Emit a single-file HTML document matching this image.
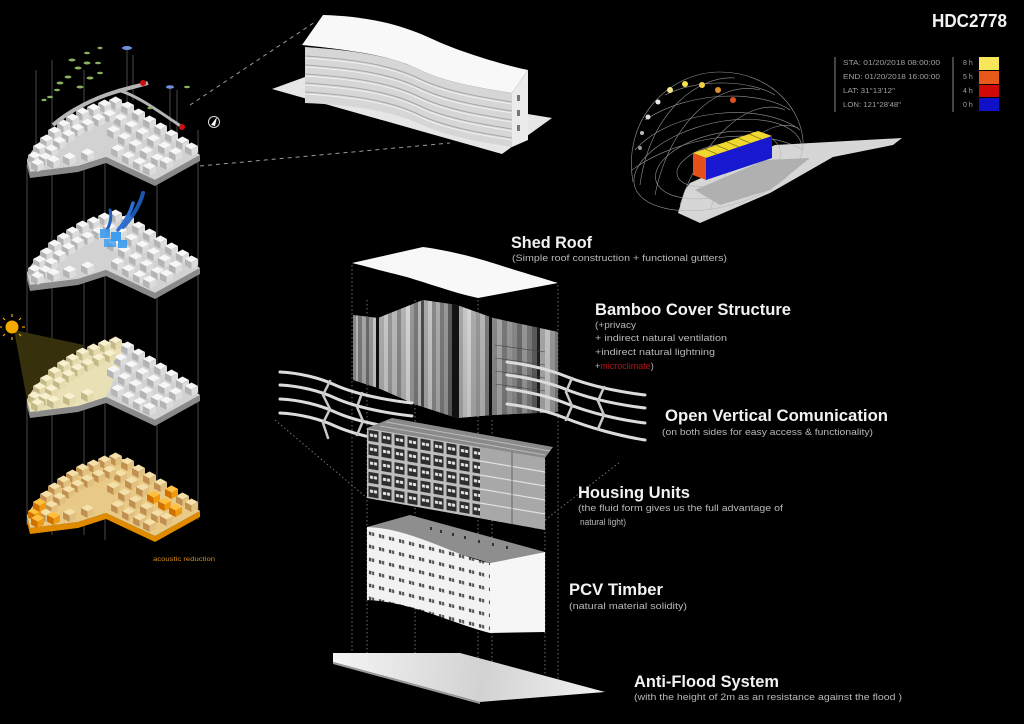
<!DOCTYPE html>
<html><head><meta charset="utf-8">
<style>
html,body{margin:0;padding:0;background:#000;}
svg{display:block}
text{font-family:"Liberation Sans",sans-serif}
.t{fill:#f2f2f2;font-weight:bold;font-size:17px}
.s{fill:#b8b8b8;font-size:9px}
.lg{fill:#a0a0a0;font-size:7px}
</style></head><body>
<svg width="1024" height="724" viewBox="0 0 1024 724" xmlns="http://www.w3.org/2000/svg" xmlns:xlink="http://www.w3.org/1999/xlink">
<defs>
<g id="blk"><polygon points="0,0 6.5,-3.5 13,0 6.5,3.5" style="fill:var(--t,#f7f7f7)"/><polygon points="0,0 6.5,3.5 6.5,10 0,6.5" style="fill:var(--l,#b4b4b4)"/><polygon points="6.5,3.5 13,0 13,6.5 6.5,10" style="fill:var(--r,#dcdcdc)"/></g>
<g id="plat"><polygon points="27,160 30,172 78,166 106,157 155,180 200,155 200,161 155,186 106,163 78,172 30,178 27,166" style="fill:var(--sd,#8a8a8a)"/><path d="M27,160 C35,140 70,113 112,103 L124,103 L200,155 L155,180 L106,157 L78,166 L30,172 Z" style="fill:var(--p,#d2d2d2)"/></g>
<g id="bl" transform="translate(-1,-1)">
<use href="#blk" x="110" y="101"/><use href="#blk" x="99" y="104"/><use href="#blk" x="88" y="108"/><use href="#blk" x="77" y="112"/><use href="#blk" x="67" y="118"/><use href="#blk" x="58" y="124"/><use href="#blk" x="49" y="131"/><use href="#blk" x="41" y="139"/><use href="#blk" x="34" y="147"/><use href="#blk" x="29" y="156"/>
<use href="#blk" x="104" y="114"/><use href="#blk" x="93" y="118"/><use href="#blk" x="82" y="123"/><use href="#blk" x="72" y="128"/><use href="#blk" x="63" y="134"/><use href="#blk" x="54" y="141"/><use href="#blk" x="46" y="149"/><use href="#blk" x="40" y="157"/>
<use href="#blk" x="32" y="163"/><use href="#blk" x="48" y="160"/><use href="#blk" x="64" y="157"/><use href="#blk" x="82" y="153"/>
</g>
<g id="br" transform="translate(-1,-1)">
<use href="#blk" x="122" y="106"/><use href="#blk" x="133" y="113"/><use href="#blk" x="144" y="120"/><use href="#blk" x="155" y="127"/><use href="#blk" x="166" y="134"/><use href="#blk" x="177" y="141"/><use href="#blk" x="186" y="147"/>
<use href="#blk" x="115" y="118"/><use href="#blk" x="126" y="125"/><use href="#blk" x="137" y="132"/><use href="#blk" x="148" y="139"/><use href="#blk" x="159" y="146"/><use href="#blk" x="170" y="152"/>
<use href="#blk" x="108" y="130"/><use href="#blk" x="119" y="137"/><use href="#blk" x="130" y="144"/><use href="#blk" x="141" y="151"/><use href="#blk" x="152" y="158"/><use href="#blk" x="161" y="161"/>
<use href="#blk" x="112" y="149"/><use href="#blk" x="123" y="156"/><use href="#blk" x="134" y="162"/><use href="#blk" x="144" y="167"/>
</g>
<path id="fl" d="M305,47 C350,50 390,55 420,70 C445,82 480,88 512,93" fill="none"/>
<pattern id="win" patternUnits="userSpaceOnUse" width="13" height="14" patternTransform="translate(367,428) skewY(9.6)">
<rect width="13" height="14" fill="#bdbdbd"/><rect x="1.5" y="1.5" width="10" height="11" fill="#2e2e2e"/><rect x="3" y="5" width="3" height="3" fill="#e8e8e8"/><rect x="7" y="5" width="3" height="3" fill="#e8e8e8"/>
</pattern>
<pattern id="w2" patternUnits="userSpaceOnUse" width="10" height="13" patternTransform="translate(367,527) skewY(14)">
<rect width="10" height="13" fill="#f2f2f2"/><rect x="2" y="4" width="2.2" height="3.5" fill="#444"/><rect x="5" y="4" width="2.2" height="3.5" fill="#555"/>
</pattern>
<linearGradient id="slab" gradientUnits="userSpaceOnUse" x1="333" y1="660" x2="605" y2="690">
<stop offset="0" stop-color="#f5f5f5"/><stop offset="0.55" stop-color="#d2d2d2"/><stop offset="1" stop-color="#f2f2f2"/>
</linearGradient>
<linearGradient id="shade" x1="0" y1="0" x2="0" y2="1">
<stop offset="0" stop-color="#000" stop-opacity="0.1"/><stop offset="1" stop-color="#000" stop-opacity="0.2"/>
</linearGradient>
<clipPath id="bc"><polygon points="353,315 378,318 423,300 457,305 493,318 558,332 558,412 493,415 457,418 417,405 378,388 353,380"/></clipPath>
</defs>

<rect width="1024" height="724" fill="#000"/>

<!-- left vertical lines -->
<g stroke="#5a5a5a" stroke-width="0.8">
<line x1="27" y1="165" x2="27" y2="525"/><line x1="52" y1="60" x2="52" y2="535"/><line x1="84" y1="70" x2="84" y2="535"/><line x1="105" y1="110" x2="105" y2="540"/><line x1="157" y1="150" x2="157" y2="540"/><line x1="198" y1="130" x2="198" y2="520"/>
<line x1="36" y1="70" x2="36" y2="155"/><line x1="127" y1="50" x2="127" y2="110"/><line x1="133" y1="55" x2="133" y2="100"/><line x1="170" y1="88" x2="170" y2="140"/><line x1="177" y1="90" x2="177" y2="140"/>
</g>

<!-- dashed lines to top building -->
<g stroke="#9a9a9a" stroke-width="1" stroke-dasharray="4,4">
<line x1="190" y1="105" x2="315" y2="22"/><line x1="200" y1="166" x2="450" y2="143"/>
</g>

<!-- model 1 -->
<g>
<use href="#plat"/>
<use href="#br"/>
<use href="#bl"/>
<path d="M53,125 C70,110 95,98 115,92 C128,88 138,86 148,83" stroke="#b5b5b5" stroke-width="4" fill="none"/>
<path d="M118,90 C135,95 150,105 182,127" stroke="#b5b5b5" stroke-width="3" fill="none"/>
<g fill="#8ab060">
<ellipse cx="72" cy="60" rx="3.5" ry="1.5"/><ellipse cx="87" cy="53" rx="3" ry="1.3"/><ellipse cx="78" cy="68" rx="3.5" ry="1.5"/><ellipse cx="87" cy="63" rx="3.5" ry="1.5"/><ellipse cx="98" cy="63" rx="3" ry="1.3"/><ellipse cx="68" cy="77" rx="3.5" ry="1.5"/><ellipse cx="60" cy="83" rx="3.5" ry="1.5"/><ellipse cx="57" cy="90" rx="3" ry="1.3"/><ellipse cx="50" cy="97" rx="3" ry="1.3"/><ellipse cx="80" cy="87" rx="3.5" ry="1.5"/><ellipse cx="90" cy="78" rx="3.5" ry="1.5"/><ellipse cx="100" cy="73" rx="3" ry="1.3"/><ellipse cx="187" cy="87" rx="3" ry="1.3"/><ellipse cx="100" cy="48" rx="2.5" ry="1.2"/><ellipse cx="44" cy="100" rx="2.5" ry="1.2"/><ellipse cx="150" cy="108" rx="2.5" ry="1.2"/>
</g>
<ellipse cx="127" cy="48" rx="5" ry="2" fill="#7090e0"/><ellipse cx="170" cy="87" rx="4" ry="1.8" fill="#7090e0"/>
<circle cx="143" cy="83" r="3" fill="#d01010"/><circle cx="182" cy="127" r="3" fill="#d01010"/>
<circle cx="214" cy="122" r="5.5" fill="none" stroke="#ddd" stroke-width="1"/><polygon points="211,125 217,117 215,126" fill="#fff"/>
</g>

<!-- model 2 -->
<g transform="translate(0,113)">
<use href="#plat"/>
<use href="#br"/>
<use href="#bl"/>
</g>
<g fill="none" stroke-linecap="round">
<path d="M143,193 C140,205 132,218 123,227" stroke="#1f5fc0" stroke-width="4" opacity="0.9"/>
<path d="M133,203 C130,214 125,222 118,230" stroke="#2a70d6" stroke-width="3.5"/>
<path d="M110,210 C112,218 110,224 107,230" stroke="#1f5fc0" stroke-width="3"/>
</g>
<g fill="#3b9cf0">
<rect x="100" y="229" width="10" height="9" opacity="0.9"/><rect x="111" y="232" width="10" height="9"/><rect x="104" y="239" width="12" height="8" opacity="0.8"/><rect x="118" y="240" width="9" height="8" opacity="0.9"/>
</g>

<!-- model 3 -->
<polygon points="14,330 84,345 27,400" fill="#36300c"/>
<g transform="translate(0,240)">
<use href="#plat"/>
<path d="M27,160 C35,140 70,113 112,103 L124,103 L118,130 L106,157 L78,166 L30,172 Z" fill="#e9e0b6"/>
<use href="#br"/>
<use href="#bl" style="--t:#f8f1d0;--l:#c4b888;--r:#e6dbac"/>
</g>
<circle cx="12" cy="327" r="6.5" fill="#f5a800"/>
<g stroke="#f5a800" stroke-width="1.2">
<line x1="12" y1="317" x2="12" y2="314"/><line x1="12" y1="337" x2="12" y2="340"/><line x1="2" y1="327" x2="-1" y2="327"/><line x1="22" y1="327" x2="25" y2="327"/><line x1="19" y1="320" x2="21" y2="318"/><line x1="5" y1="320" x2="3" y2="318"/><line x1="19" y1="334" x2="21" y2="336"/><line x1="5" y1="334" x2="3" y2="336"/>
</g>

<!-- model 4 -->
<g transform="translate(0,356)">
<use href="#plat" style="--p:#e8c986;--sd:#e08a00"/>
<use href="#br" style="--t:#f4e0a8;--l:#c09050;--r:#e2c080"/>
<use href="#bl" style="--t:#f4e0a8;--l:#c09050;--r:#e2c080"/>
<g style="--t:#ffc040;--l:#d07000;--r:#f09a10" transform="translate(-1,-1)">
<use href="#blk" x="29" y="156"/><use href="#blk" x="34" y="147"/><use href="#blk" x="32" y="163"/><use href="#blk" x="48" y="160"/><use href="#blk" x="148" y="139"/><use href="#blk" x="159" y="146"/><use href="#blk" x="170" y="152"/><use href="#blk" x="166" y="134"/>
</g>
</g>
<text x="153" y="561" fill="#d48a20" font-size="6.5" textLength="62" lengthAdjust="spacingAndGlyphs">acoustic reduction</text>

<!-- top building -->
<polygon points="272,89 305,77 552,118 502,154" fill="#e6e6e6"/>
<path d="M305,47 C350,50 390,55 420,70 C445,82 480,88 512,93 L512,147 C480,142 445,136 420,124 C390,110 350,105 305,103 Z" fill="#d6d6d6"/>
<g stroke="#a8a8a8" stroke-width="1.1">
<use href="#fl" y="9"/><use href="#fl" y="18"/><use href="#fl" y="27"/><use href="#fl" y="36"/><use href="#fl" y="45"/>
</g>
<g stroke="#f0f0f0" stroke-width="1">
<use href="#fl" y="11"/><use href="#fl" y="20"/><use href="#fl" y="29"/><use href="#fl" y="38"/><use href="#fl" y="47"/>
</g>
<path d="M323,15 C360,16 395,22 430,38 C460,52 500,64 528,70 L512,93 C480,88 445,82 420,70 C390,55 350,50 302,45 Z" fill="#f8f8f8"/>
<polygon points="512,93 528,70 528,140 512,147" fill="#ebebeb"/>
<g fill="#777"><rect x="517" y="95" width="3" height="6"/><rect x="517" y="110" width="3" height="6"/><rect x="517" y="125" width="3" height="6"/></g>

<!-- title -->
<text x="932" y="27" fill="#f2f2f2" font-weight="bold" font-size="18" textLength="75" lengthAdjust="spacingAndGlyphs">HDC2778</text>

<!-- legend -->
<line x1="835" y1="57" x2="835" y2="112" stroke="#888" stroke-width="1"/>
<line x1="953" y1="57" x2="953" y2="112" stroke="#888" stroke-width="1"/>
<text class="lg" x="843" y="65" textLength="97" lengthAdjust="spacingAndGlyphs">STA: 01/20/2018 08:00:00</text>
<text class="lg" x="843" y="79" textLength="97" lengthAdjust="spacingAndGlyphs">END: 01/20/2018 16:00:00</text>
<text class="lg" x="843" y="93" textLength="52" lengthAdjust="spacingAndGlyphs">LAT: 31°13'12"</text>
<text class="lg" x="843" y="107" textLength="58" lengthAdjust="spacingAndGlyphs">LON: 121°28'48"</text>
<text class="lg" x="963" y="65">8 h</text><text class="lg" x="963" y="79">5 h</text><text class="lg" x="963" y="93">4 h</text><text class="lg" x="963" y="107">0 h</text>
<rect x="979" y="57" width="20" height="13" fill="#f8e65a"/>
<rect x="979" y="71" width="20" height="13" fill="#e8581a"/>
<rect x="979" y="85" width="20" height="12" fill="#d00808"/>
<rect x="979" y="98" width="20" height="13" fill="#1010c8"/>

<!-- sun path diagram -->
<polygon points="678,213 685,190 690,183 775,145 902,138 893,145 833,157 770,193 700,223" fill="#d6d6d6"/>
<polygon points="695,190 765,160 810,158 770,190 720,205" fill="#8a8a8a" opacity="0.5"/>
<g stroke="#b0b0b0" stroke-width="0.6" fill="none" opacity="0.85">
<ellipse cx="718" cy="165" rx="86" ry="42" transform="rotate(-14 718 165)"/>
<ellipse cx="718" cy="165" rx="64" ry="31" transform="rotate(-14 718 165)"/>
<ellipse cx="718" cy="165" rx="42" ry="20" transform="rotate(-14 718 165)"/>
<path d="M633,182 C622,120 668,72 720,72 C770,72 806,110 803,150"/>
<path d="M640,185 C650,110 700,75 735,78"/>
<path d="M655,195 C670,120 720,80 760,90"/>
<path d="M680,205 C700,140 750,95 785,110"/>
<path d="M710,210 C730,150 770,115 798,128"/>
<path d="M635,150 C670,110 760,100 800,130"/>
<path d="M645,120 C690,90 760,90 790,110"/>
<path d="M665,95 C700,78 750,80 775,95"/>
<path d="M632,170 C680,135 760,125 803,150"/>
</g>
<polygon points="693,153 758,131 772,136 706,158" fill="#f0d830"/>
<g stroke="#8a7a10" stroke-width="0.7"><line x1="705" y1="149" x2="717" y2="154"/><line x1="716" y1="145" x2="728" y2="150"/><line x1="727" y1="142" x2="739" y2="147"/><line x1="738" y1="138" x2="750" y2="143"/><line x1="749" y1="134" x2="761" y2="139"/></g>
<polygon points="693,153 706,158 706,180 693,175" fill="#e8501a"/>
<polygon points="706,158 772,136 772,158 706,180" fill="#1818d0"/>
<circle cx="658" cy="102" r="2.5" fill="#e8e8e8"/><circle cx="670" cy="90" r="3" fill="#f5e68a"/><circle cx="685" cy="84" r="3" fill="#f5e050"/><circle cx="702" cy="85" r="3" fill="#f5d040"/><circle cx="718" cy="90" r="3" fill="#e09030"/><circle cx="733" cy="100" r="3" fill="#e05020"/>
<circle cx="648" cy="117" r="2.5" fill="#ddd"/><circle cx="642" cy="133" r="2" fill="#bbb"/><circle cx="640" cy="148" r="2" fill="#999"/>

<!-- exploded building: dotted guides -->
<g stroke="#8a8a8a" stroke-width="0.8" stroke-dasharray="1.5,2.5" fill="none">
<line x1="352" y1="265" x2="352" y2="655"/><line x1="367" y1="300" x2="367" y2="655"/><line x1="415" y1="300" x2="415" y2="655"/><line x1="478" y1="300" x2="478" y2="670"/><line x1="492" y1="420" x2="492" y2="670"/><line x1="545" y1="460" x2="545" y2="685"/><line x1="558" y1="285" x2="558" y2="690"/>
<line x1="275" y1="420" x2="367" y2="498"/><line x1="545" y1="520" x2="620" y2="462"/>
</g>

<!-- shed roof -->
<path d="M352,263 L423,247 C460,252 490,262 515,270 C535,276 548,280 558,283 L478,298 C450,292 420,280 395,274 C378,270 365,266 352,263 Z" fill="#f8f8f8"/>

<!-- bamboo -->
<g clip-path="url(#bc)">
<rect x="353" y="295" width="205" height="130" fill="#999"/>
<rect x="356" y="295" width="2" height="130" fill="#ccc"/><rect x="358" y="295" width="4" height="130" fill="#888"/><rect x="362" y="295" width="4" height="130" fill="#bbb"/><rect x="366" y="295" width="3" height="130" fill="#777"/><rect x="369" y="295" width="4" height="130" fill="#aaa"/><rect x="373" y="295" width="3" height="130" fill="#ddd"/><rect x="376" y="295" width="3" height="130" fill="#111"/><rect x="379" y="295" width="5" height="130" fill="#c0c0c0"/><rect x="384" y="295" width="4" height="130" fill="#e0e0e0"/><rect x="388" y="295" width="4" height="130" fill="#aaa"/><rect x="392" y="295" width="5" height="130" fill="#d0d0d0"/><rect x="397" y="295" width="4" height="130" fill="#999"/><rect x="401" y="295" width="5" height="130" fill="#c8c8c8"/><rect x="406" y="295" width="4" height="130" fill="#eee"/><rect x="410" y="295" width="4" height="130" fill="#aaa"/><rect x="414" y="295" width="4" height="130" fill="#888"/><rect x="418" y="295" width="3" height="130" fill="#ccc"/><rect x="421" y="295" width="3" height="130" fill="#555"/><rect x="424" y="295" width="4" height="130" fill="#bbb"/><rect x="428" y="295" width="4" height="130" fill="#ddd"/><rect x="432" y="295" width="4" height="130" fill="#999"/><rect x="436" y="295" width="4" height="130" fill="#c0c0c0"/><rect x="440" y="295" width="4" height="130" fill="#888"/><rect x="444" y="295" width="4" height="130" fill="#aaa"/><rect x="448" y="295" width="4" height="130" fill="#666"/><rect x="452" y="295" width="7" height="130" fill="#151515"/><rect x="459" y="295" width="4" height="130" fill="#bbb"/><rect x="463" y="295" width="4" height="130" fill="#ddd"/><rect x="467" y="295" width="4" height="130" fill="#eee"/><rect x="471" y="295" width="5" height="130" fill="#c0c0c0"/><rect x="476" y="295" width="4" height="130" fill="#aaa"/><rect x="480" y="295" width="5" height="130" fill="#ccc"/><rect x="485" y="295" width="4" height="130" fill="#888"/><rect x="489" y="295" width="3" height="130" fill="#111"/><rect x="492" y="295" width="5" height="130" fill="#999"/><rect x="497" y="295" width="5" height="130" fill="#bbb"/><rect x="502" y="295" width="5" height="130" fill="#888"/><rect x="507" y="295" width="5" height="130" fill="#aaa"/><rect x="512" y="295" width="5" height="130" fill="#999"/><rect x="517" y="295" width="5" height="130" fill="#777"/><rect x="522" y="295" width="5" height="130" fill="#aaa"/><rect x="527" y="295" width="5" height="130" fill="#888"/><rect x="532" y="295" width="5" height="130" fill="#666"/><rect x="537" y="295" width="3" height="130" fill="#222"/><rect x="540" y="295" width="5" height="130" fill="#bbb"/><rect x="545" y="295" width="5" height="130" fill="#ddd"/><rect x="550" y="295" width="5" height="130" fill="#aaa"/><rect x="555" y="295" width="3" height="130" fill="#888"/>
<rect x="353" y="295" width="205" height="130" fill="url(#shade)"/>
<g stroke="#444" stroke-width="0.6"><line x1="495" y1="345" x2="545" y2="352"/><line x1="495" y1="358" x2="545" y2="365"/><line x1="495" y1="371" x2="545" y2="378"/><line x1="495" y1="384" x2="545" y2="391"/></g>
</g>

<!-- rails -->
<g fill="none" stroke-linecap="round">
<g stroke="#dcdcdc" stroke-width="3">
<path d="M280,372 C300,373 320,378 335,385 C355,394 385,400 412,403"/>
<path d="M280,385 C300,386 320,391 335,398 C355,407 385,413 412,416"/>
<path d="M280,399 C300,400 320,405 335,412 C355,421 385,427 412,430"/>
<path d="M280,413 C300,414 320,419 335,426 C355,435 385,441 412,444"/>
</g>
<g stroke="#c8c8c8" stroke-width="2.5">
<polyline points="330,381 323,395 330,409 323,423 328,438"/>
<polyline points="362,393 357,407 363,421 357,435"/>
</g>
<g stroke="#dcdcdc" stroke-width="3">
<path d="M507,362 C530,365 550,370 565,376 C590,386 620,392 645,395"/>
<path d="M507,375 C530,378 550,383 565,389 C590,399 620,405 645,408"/>
<path d="M507,389 C530,392 550,397 565,403 C590,413 620,420 645,423"/>
<path d="M507,404 C530,407 550,412 565,418 C590,428 620,436 645,440"/>
</g>
<g stroke="#c8c8c8" stroke-width="2.5">
<polyline points="572,378 566,392 572,406 566,420"/>
<polyline points="604,387 598,401 604,415 598,429"/>
</g>
</g>

<!-- housing units -->
<polygon points="367,428 392,418 553,447 545,458" fill="#8a8a8a"/>
<g stroke="#bbb" stroke-width="1"><line x1="380" y1="426" x2="545" y2="455"/><line x1="386" y1="422" x2="550" y2="451"/></g>
<polygon points="367,428 545,458 545,530 367,498" fill="url(#win)"/>
<polygon points="480,447 545,458 545,530 480,518" fill="#a8a8a8"/>
<g stroke="#e0e0e0" stroke-width="1.2"><line x1="480" y1="461" x2="545" y2="472"/><line x1="480" y1="475" x2="545" y2="486"/><line x1="480" y1="489" x2="545" y2="500"/><line x1="480" y1="503" x2="545" y2="514"/></g>
<g stroke="#666" stroke-width="1"><line x1="512" y1="452" x2="512" y2="524"/></g>

<!-- PCV timber box -->
<polygon points="367,527 410,515 545,552 490,563" fill="#8e8e8e"/>
<g fill="#333"><rect x="430" y="527" width="2" height="3"/><rect x="440" y="530" width="2" height="3"/><rect x="452" y="533" width="2" height="3"/><rect x="464" y="536" width="2" height="3"/><rect x="478" y="540" width="2" height="3"/><rect x="492" y="543" width="2" height="3"/><rect x="506" y="546" width="2" height="3"/></g>
<path d="M367,527 C395,528 420,538 445,548 C465,556 478,561 490,563 L490,633 C470,628 445,618 420,610 C400,604 385,601 367,600 Z" fill="url(#w2)"/>
<polygon points="490,563 545,552 545,632 490,633" fill="#f6f6f6"/>

<!-- anti-flood slab -->
<polygon points="333,653 460,653 605,692 480,702 333,662" fill="url(#slab)"/>
<polygon points="333,662 480,702 480,704 333,664" fill="#9a9a9a"/>

<!-- labels -->
<text class="t" x="511" y="248" textLength="81" lengthAdjust="spacingAndGlyphs">Shed Roof</text>
<text class="s" x="512" y="261" textLength="215" lengthAdjust="spacingAndGlyphs">(Simple roof construction + functional gutters)</text>

<text class="t" x="595" y="315" textLength="196" lengthAdjust="spacingAndGlyphs">Bamboo Cover Structure</text>
<text class="s" x="595" y="328" textLength="41" lengthAdjust="spacingAndGlyphs">(+privacy</text>
<text class="s" x="595" y="341" textLength="132" lengthAdjust="spacingAndGlyphs">+ indirect natural ventilation</text>
<text class="s" x="595" y="355" textLength="120" lengthAdjust="spacingAndGlyphs">+indirect natural lightning</text>
<text class="s" x="595" y="369">+<tspan fill="#b01818">microclimate</tspan>)</text>

<text class="t" x="665" y="421" textLength="223" lengthAdjust="spacingAndGlyphs">Open Vertical Comunication</text>
<text class="s" x="662" y="435" textLength="211" lengthAdjust="spacingAndGlyphs">(on both sides for easy access &amp; functionality)</text>

<text class="t" x="578" y="498" textLength="112" lengthAdjust="spacingAndGlyphs">Housing Units</text>
<text class="s" x="578" y="511" textLength="205" lengthAdjust="spacingAndGlyphs">(the fluid form gives us the full advantage of</text>
<text class="s" x="580" y="525" textLength="46" lengthAdjust="spacingAndGlyphs">natural light)</text>

<text class="t" x="569" y="595" textLength="94" lengthAdjust="spacingAndGlyphs">PCV Timber</text>
<text class="s" x="569" y="609" textLength="118" lengthAdjust="spacingAndGlyphs">(natural material solidity)</text>

<text class="t" x="634" y="687" textLength="145" lengthAdjust="spacingAndGlyphs">Anti-Flood System</text>
<text class="s" x="634" y="700" textLength="268" lengthAdjust="spacingAndGlyphs">(with the height of 2m as an resistance against the flood )</text>
</svg>
</body></html>
